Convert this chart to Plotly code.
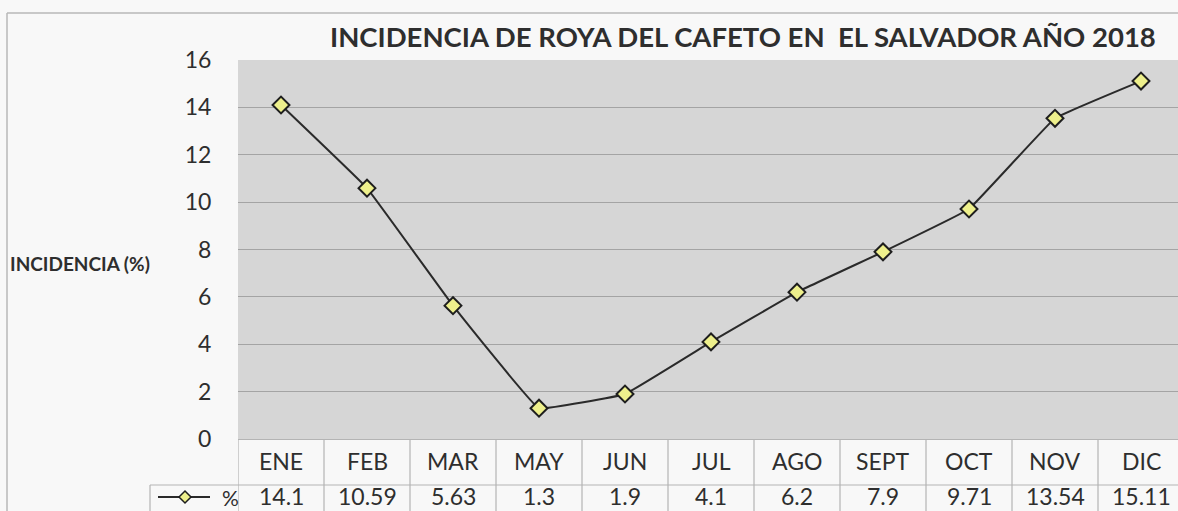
import plotly.graph_objects as go

# ---- data ----
months = ["ENE", "FEB", "MAR", "MAY", "JUN", "JUL", "AGO", "SEPT", "OCT", "NOV", "DIC"]
incidence = [14.1, 10.59, 5.63, 1.3, 1.9, 4.1, 6.2, 7.9, 9.71, 13.54, 15.11]
value_labels = ["14.1", "10.59", "5.63", "1.3", "1.9", "4.1", "6.2", "7.9", "9.71", "13.54", "15.11"]
y_ticks = [0, 2, 4, 6, 8, 10, 12, 14, 16]
title_text = "INCIDENCIA DE ROYA DEL CAFETO EN  EL SALVADOR AÑO 2018"
y_title = "INCIDENCIA (%)"
series_name = "%"

W, H = 1178, 511
PL, PR, PT, PB = 238, 1178, 60, 439   # plot area in pixels
ROW2 = 485                             # boundary between table rows
LEG_L = 150                            # left edge of legend cell


def px(x):
    return x / W


def py(y):
    return 1 - y / H


FONT = "Lato, Carlito, Calibri, sans-serif"
TXT = "#2e2e2e"
GRID = "#a4a4a4"
TBL = "#b4b4b4"

fig = go.Figure()
fig.add_trace(go.Scatter(
    x=list(range(len(months))), y=incidence, mode="lines+markers",
    name=series_name,
    line=dict(color="#2a2a2a", width=2, shape="spline", smoothing=0.2),
    marker=dict(symbol="diamond", size=13, color="#eef08c",
                line=dict(color="#1e1e1e", width=2)),
    showlegend=False, cliponaxis=False,
))

n = len(months)
xmax = -0.5 + (PR - PL) / 86.0  # about 86 px per category column

shapes = []
# outer chart border
shapes.append(dict(type="line", xref="paper", yref="paper", x0=px(7), x1=px(7), y0=py(13), y1=0,
                   line=dict(color="#b8b8b8", width=1.5)))
shapes.append(dict(type="line", xref="paper", yref="paper", x0=px(7), x1=1, y0=py(13), y1=py(13),
                   line=dict(color="#b8b8b8", width=1.5)))
# table vertical separators
for i in range(n + 1):
    xb = i - 0.5
    if xb > xmax:
        continue
    shapes.append(dict(type="line", xref="x", yref="paper", x0=xb, x1=xb, y0=py(PB), y1=0,
                       line=dict(color=TBL, width=1.2)))
# horizontal line between rows
shapes.append(dict(type="line", xref="paper", yref="paper", x0=px(LEG_L), x1=1, y0=py(ROW2), y1=py(ROW2),
                   line=dict(color=TBL, width=1.2)))
# legend cell left border
shapes.append(dict(type="line", xref="paper", yref="paper", x0=px(LEG_L), x1=px(LEG_L), y0=py(ROW2), y1=0,
                   line=dict(color=TBL, width=1.2)))
# legend key: line + diamond
ky = 497
shapes.append(dict(type="line", xref="paper", yref="paper", x0=px(158), x1=px(210), y0=py(ky), y1=py(ky),
                   line=dict(color="#2a2a2a", width=2)))
d = 6
shapes.append(dict(type="path", xref="paper", yref="paper",
                   path=f"M {px(185-d)} {py(ky)} L {px(185)} {py(ky-d)} L {px(185+d)} {py(ky)} L {px(185)} {py(ky+d)} Z",
                   fillcolor="#eef08c", line=dict(color="#1e1e1e", width=1.5)))

annotations = []
annotations.append(dict(text=f"<b>{title_text}</b>", xref="paper", yref="paper", x=px(743), y=py(36),
                        yanchor="middle", showarrow=False, font=dict(family=FONT, size=27.5, color=TXT)))
annotations.append(dict(text=f"<b>{y_title}</b>", xref="paper", yref="paper", x=px(8), y=py(263),
                        xanchor="left", yanchor="middle", showarrow=False,
                        font=dict(family=FONT, size=19, color=TXT)))
annotations.append(dict(text=series_name, xref="paper", yref="paper", x=px(220), y=py(ky),
                        xanchor="left", yanchor="middle", showarrow=False,
                        font=dict(family=FONT, size=21, color=TXT)))
for i, (m, v) in enumerate(zip(months, value_labels)):
    annotations.append(dict(text=m, xref="x", yref="paper", x=i, y=py(461), yanchor="middle",
                            showarrow=False, font=dict(family=FONT, size=23, color=TXT)))
    annotations.append(dict(text=v, xref="x", yref="paper", x=i, y=py(496), yanchor="middle",
                            showarrow=False, font=dict(family=FONT, size=23, color=TXT)))

fig.update_layout(
    width=W, height=H,
    margin=dict(l=0, r=0, t=0, b=0, pad=0),
    paper_bgcolor="#f8f8f8",
    plot_bgcolor="#d6d6d6",
    shapes=shapes, annotations=annotations,
    xaxis=dict(domain=[px(PL), px(PR)], range=[-0.5, xmax], showticklabels=False, automargin=False,
               showgrid=False, zeroline=False, showline=True, linecolor=TBL, linewidth=1.2,
               mirror=False, fixedrange=True),
    yaxis=dict(domain=[py(PB), py(PT)], range=[0, 16], tickvals=y_ticks, automargin=False,
               showgrid=True, gridcolor=GRID, gridwidth=1.2, zeroline=False,
               showline=False, ticks="outside", ticklen=21, tickcolor="rgba(0,0,0,0)",
               tickfont=dict(family=FONT, size=23, color=TXT), fixedrange=True),
    showlegend=False,
)

fig.write_html(
    "out.html",
    config={"displayModeBar": False},
    post_script="document.body.style.margin='0';document.body.style.overflow='hidden';",
)
